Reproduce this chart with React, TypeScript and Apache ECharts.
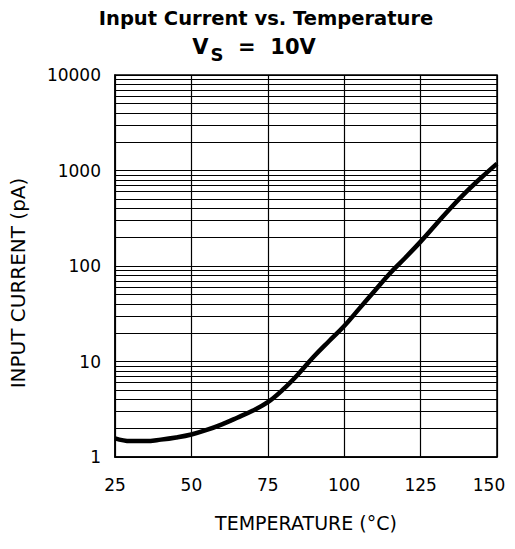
import React, { useEffect, useRef } from "react";
import * as echarts from "echarts";

const temperatures = [25, 30, 35, 40, 45, 50, 55, 60, 65, 70, 75, 80, 85, 90, 95, 100, 105, 110, 115, 120, 125, 130, 135, 140, 145, 150];
const inputCurrent = [1.57, 1.47, 1.47, 1.52, 1.6, 1.72, 1.92, 2.2, 2.58, 3.05, 3.75, 5.1, 7.4, 11.2, 16.3, 23.5, 36, 55, 84, 122, 180, 272, 410, 600, 850, 1180];
const xTicks = [25, 50, 75, 100, 125, 150];
const decades = [1, 10, 100, 1000];
const minorMultipliers = [2, 3, 4, 5, 6, 7, 8, 9];

const font = "DejaVu Sans";

export default function App() {
  const ref = useRef<HTMLDivElement>(null);
  useEffect(() => {
    if (!ref.current) return;
    const chart = echarts.init(ref.current, undefined, { renderer: "svg" });
    const minorLines: any[] = [];
    decades.forEach((d) => minorMultipliers.forEach((m) => minorLines.push({ yAxis: d * m })));
    const lastTick = xTicks[xTicks.length - 1];
    chart.setOption({
      animation: false,
      backgroundColor: "#ffffff",
      title: [
        {
          left: 261,
          textAlign: "center",
          top: 3,
          text: "Input Current vs. Temperature",
          textStyle: { fontFamily: font, fontWeight: "bold", fontSize: 19.5, color: "#000" },
        },
        {
          left: 249,
          textAlign: "center",
          top: 29,
          text: "{v|V}{s|S}{v|  =  10V}",
          textStyle: {
            fontFamily: font,
            fontWeight: "bold",
            fontSize: 21,
            color: "#000",
            rich: {
              v: { fontFamily: font, fontWeight: "bold", fontSize: 21, color: "#000", lineHeight: 26 },
              s: { fontFamily: font, fontWeight: "bold", fontSize: 18, color: "#000", padding: [14, 0, 0, 2], lineHeight: 26 },
            },
          },
        },
      ],
      grid: {
        left: 115,
        right: 18,
        top: 75,
        bottom: 92,
        show: true,
        borderColor: "#000",
        borderWidth: 1.5,
        containLabel: false,
      },
      xAxis: {
        type: "value",
        min: 25,
        max: 150,
        interval: 25,
        name: "TEMPERATURE (°C)",
        nameLocation: "middle",
        nameGap: 56,
        nameTextStyle: { fontFamily: font, fontSize: 19, color: "#000" },
        axisLine: { show: true, lineStyle: { color: "#000", width: 1.5 } },
        axisTick: { show: false },
        axisLabel: {
          fontFamily: font,
          fontSize: 17,
          color: "#000",
          margin: 19,
          customValues: xTicks,
          formatter: (v: number) => (v === lastTick ? `{r|${v}}` : String(v)),
          rich: {
            r: { fontFamily: font, fontSize: 17, color: "#000", padding: [0, 16, 0, 0] },
          },
        },
        splitLine: { show: true, lineStyle: { color: "#000", width: 1.2 } },
      },
      yAxis: {
        type: "log",
        logBase: 10,
        min: 1,
        max: 10000,
        axisLine: { show: true, lineStyle: { color: "#000", width: 1.5 } },
        axisTick: { show: false },
        axisLabel: {
          fontFamily: font,
          fontSize: 17,
          color: "#000",
          margin: 14,
          formatter: (v: number) => String(Math.round(v)),
        },
        splitLine: { show: true, lineStyle: { color: "#000", width: 1.2 } },
      },
      graphic: [
        {
          type: "text",
          x: 18,
          y: 283,
          rotation: Math.PI / 2,
          style: {
            text: "INPUT CURRENT (pA)",
            font: `20px '${font}'`,
            fill: "#000",
            align: "center",
            verticalAlign: "middle",
          },
        },
      ],
      series: [
        {
          type: "line",
          data: temperatures.map((t, i) => [t, inputCurrent[i]]),
          smooth: 0.4,
          showSymbol: false,
          lineStyle: { color: "#000", width: 4.5 },
          z: 5,
          markLine: {
            silent: true,
            symbol: "none",
            label: { show: false },
            lineStyle: { color: "#000", width: 1.2, type: "solid" },
            data: minorLines,
            z: 1,
          },
        },
      ],
    });
    return () => chart.dispose();
  }, []);
  return (
    <div
      ref={ref}
      style={{ width: 515, height: 549, marginLeft: -8, marginTop: -8, marginBottom: -8 }}
    />
  );
}
